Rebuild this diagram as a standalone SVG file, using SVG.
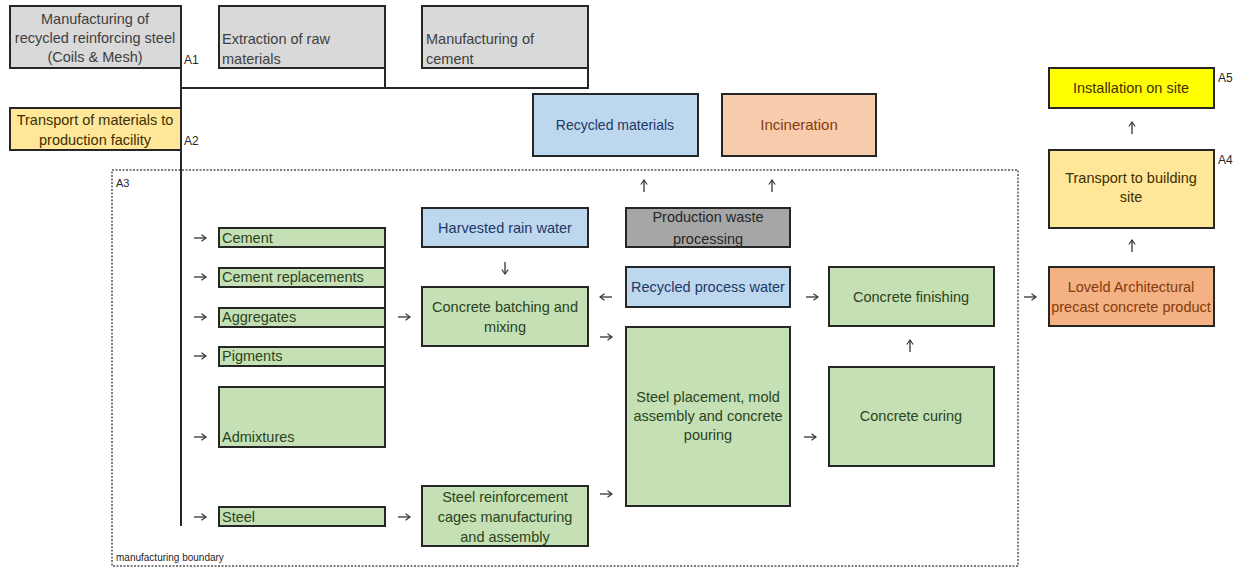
<svg xmlns="http://www.w3.org/2000/svg" width="1248" height="569" viewBox="0 0 1248 569">
<style>
text{font-family:"Liberation Sans",Arial,sans-serif;font-size:14.5px}
.b{stroke:#262626;stroke-width:2}
.gray{fill:#d9d9d9}.dgray{fill:#a6a6a6}.blue{fill:#bdd7ee}.peach{fill:#f8cbad}.orange{fill:#f4b183}.ltyel{fill:#ffe699}.yel{fill:#ffff00}.grn{fill:#c5e0b4}
.tg{fill:#404040}.tb{fill:#1f3864}.tp{fill:#843c0c}.ty{fill:#3d3000}.tgr{fill:#2b4420}.tk{fill:#262626}
.c{text-anchor:middle}
.lbl{font-size:12px;fill:#262626}
.ln{stroke:#262626;stroke-width:2;fill:none}
.ar{stroke:#333;stroke-width:1.3;fill:none;marker-end:url(#ah)}
</style>
<defs>
<marker id="ah" viewBox="0 0 10 10" refX="9" refY="5" markerWidth="9" markerHeight="9" orient="auto" markerUnits="userSpaceOnUse">
<path d="M4,1.5 L9,5 L4,8.5" fill="none" stroke="#333" stroke-width="1.3"/>
</marker>
</defs>
<rect x="0" y="0" width="1248" height="569" fill="#fff"/>

<g id="boundary">
<rect x="112" y="170" width="906" height="396" fill="none" stroke="#555" stroke-width="1.5" stroke-dasharray="2,1.5"/>
<text x="116" y="187" class="lbl" style="font-size:11px">A3</text>
<text x="116" y="561" class="lbl" style="font-size:10px">manufacturing boundary</text>
</g>

<g id="connectors">
<path class="ln" d="M181,6 V526"/>
<path class="ln" d="M181,88 H588 V68"/>
<path class="ln" d="M385,68 V88"/>
<path class="ln" d="M385,228 V447"/>
<path class="ar" d="M194,238 H206"/>
<path class="ar" d="M194,277 H206"/>
<path class="ar" d="M194,317 H206"/>
<path class="ar" d="M194,356 H206"/>
<path class="ar" d="M194,437 H206"/>
<path class="ar" d="M194,517 H206"/>
<path class="ar" d="M398,317 H410"/>
<path class="ar" d="M398,517 H410"/>
<path class="ar" d="M600,337 H612"/>
<path class="ar" d="M600,494 H612"/>
<path class="ar" d="M612,297 H600"/>
<path class="ar" d="M806,297 H818"/>
<path class="ar" d="M804,437 H816"/>
<path class="ar" d="M1024,297 H1036"/>
<path class="ar" d="M505,262 V274"/>
<path class="ar" d="M644,192 V180"/>
<path class="ar" d="M772,192 V180"/>
<path class="ar" d="M910,352 V340"/>
<path class="ar" d="M1132,134 V122"/>
<path class="ar" d="M1132,252 V240"/>
</g>

<g id="n-steelmfg">
<rect x="10" y="6" width="171" height="62" class="b gray"/>
<text x="95" y="24" class="c tg">Manufacturing of</text>
<text x="95" y="43" class="c tg">recycled reinforcing steel</text>
<text x="95" y="62" class="c tg">(Coils &amp; Mesh)</text>
<text x="184" y="64" class="lbl">A1</text>
</g>
<g id="n-extraction">
<rect x="219" y="6" width="166" height="62" class="b gray"/>
<text x="222" y="44" class="tg">Extraction of raw</text>
<text x="222" y="64" class="tg">materials</text>
</g>
<g id="n-cement-mfg">
<rect x="422" y="6" width="166" height="62" class="b gray"/>
<text x="426" y="44" class="tg">Manufacturing of</text>
<text x="426" y="64" class="tg">cement</text>
</g>
<g id="n-transport-mat">
<rect x="10" y="108" width="171" height="42" class="b ltyel"/>
<text x="95" y="125" class="c ty">Transport of materials to</text>
<text x="95" y="145" class="c ty">production facility</text>
<text x="184" y="145" class="lbl">A2</text>
</g>
<g id="n-recycled">
<rect x="533" y="94" width="165" height="62" class="b blue"/>
<text x="615" y="130" class="c tb" style="font-size:14px">Recycled materials</text>
</g>
<g id="n-incineration">
<rect x="722" y="94" width="154" height="62" class="b peach"/>
<text x="799" y="130" class="c tp" style="font-size:15px">Incineration</text>
</g>
<g id="n-install">
<rect x="1049" y="68" width="165" height="40" class="b yel"/>
<text x="1131" y="93" class="c ty">Installation on site</text>
<text x="1218" y="82" class="lbl">A5</text>
</g>
<g id="n-transport-site">
<rect x="1049" y="150" width="165" height="78" class="b ltyel"/>
<text x="1131" y="183" class="c ty">Transport to building</text>
<text x="1131" y="202" class="c ty">site</text>
<text x="1218" y="164" class="lbl">A4</text>
</g>
<g id="n-product">
<rect x="1049" y="267" width="165" height="59" class="b orange"/>
<text x="1131" y="292" class="c tp">Loveld Architectural</text>
<text x="1131" y="312" class="c tp">precast concrete product</text>
</g>

<g id="n-waste">
<rect x="626" y="208" width="164" height="39" class="b dgray"/>
<text x="708" y="222" class="c tk">Production waste</text>
<text x="708" y="244" class="c tk">processing</text>
</g>
<g id="n-rain">
<rect x="422" y="208" width="166" height="39" class="b blue"/>
<text x="505" y="233" class="c tb">Harvested rain water</text>
</g>
<g id="n-processwater">
<rect x="626" y="267" width="164" height="40" class="b blue"/>
<text x="708" y="292" class="c tb">Recycled process water</text>
</g>
<g id="n-finishing">
<rect x="829" y="267" width="165" height="59" class="b grn"/>
<text x="911" y="302" class="c tgr">Concrete finishing</text>
</g>
<g id="n-batching">
<rect x="422" y="287" width="166" height="59" class="b grn"/>
<text x="505" y="312" class="c tgr">Concrete batching and</text>
<text x="505" y="332" class="c tgr">mixing</text>
</g>
<g id="n-pouring">
<rect x="626" y="327" width="164" height="179" class="b grn"/>
<text x="708" y="402" class="c tgr">Steel placement, mold</text>
<text x="708" y="421" class="c tgr">assembly and concrete</text>
<text x="708" y="440" class="c tgr">pouring</text>
</g>
<g id="n-curing">
<rect x="829" y="367" width="165" height="99" class="b grn"/>
<text x="911" y="421" class="c tgr">Concrete curing</text>
</g>
<g id="n-cages">
<rect x="422" y="486" width="166" height="60" class="b grn"/>
<text x="505" y="502" class="c tgr">Steel reinforcement</text>
<text x="505" y="522" class="c tgr">cages manufacturing</text>
<text x="505" y="542" class="c tgr">and assembly</text>
</g>

<g id="n-cement">
<rect x="219" y="228" width="166" height="19" class="b grn"/>
<text x="222" y="243" class="tgr">Cement</text>
</g>
<g id="n-cement-repl">
<rect x="219" y="268" width="166" height="19" class="b grn"/>
<text x="222" y="282" class="tgr">Cement replacements</text>
</g>
<g id="n-aggregates">
<rect x="219" y="308" width="166" height="19" class="b grn"/>
<text x="222" y="322" class="tgr">Aggregates</text>
</g>
<g id="n-pigments">
<rect x="219" y="347" width="166" height="19" class="b grn"/>
<text x="222" y="361" class="tgr">Pigments</text>
</g>
<g id="n-admixtures">
<rect x="219" y="387" width="166" height="60" class="b grn"/>
<text x="222" y="442" class="tgr">Admixtures</text>
</g>
<g id="n-steel">
<rect x="219" y="507" width="166" height="19" class="b grn"/>
<text x="222" y="522" class="tgr">Steel</text>
</g>
</svg>
